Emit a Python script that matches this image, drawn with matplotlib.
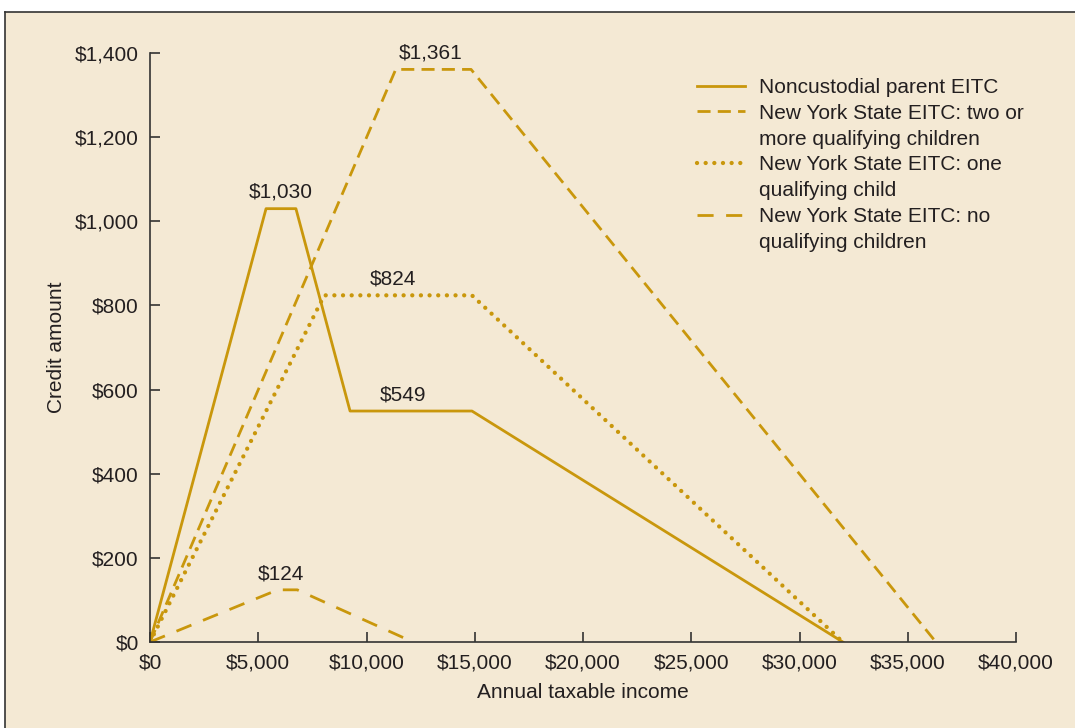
import matplotlib.pyplot as plt
from matplotlib.lines import Line2D
from matplotlib.patches import Rectangle
from matplotlib.ticker import FuncFormatter

# income breakpoints and credit amounts
ncp_income = [0, 5360, 6740, 9240, 14870, 32000]
ncp_credit = [0, 1030, 1030, 549, 549, 0]

two_income = [0, 11350, 14830, 36300]
two_credit = [0, 1361, 1361, 0]

one_income = [0, 8050, 14870, 32000]
one_credit = [0, 824, 824, 0]

none_income = [0, 5900, 6800, 12150]
none_credit = [0, 124, 124, 0]

# legend text, one list per series (continuation lines get no handle)
labels = [["Noncustodial parent EITC"],
          ["New York State EITC: two or", "more qualifying children"],
          ["New York State EITC: one", "qualifying child"],
          ["New York State EITC: no", "qualifying children"]]

# peak annotations: (income, credit, text)
notes = [(6050, 1030, "$1,030"), (12980, 1361, "$1,361"),
         (11220, 824, "$824"), (11690, 549, "$549"), (6050, 124, "$124")]

gold = "#C9970C"
bg = "#F4E9D4"
ink = "#231F20"
fs = 15

plt.rcParams['font.family'] = ['Liberation Sans', 'DejaVu Sans']

fig = plt.figure(figsize=(10.75, 7.28), dpi=100)
fig.patch.set_facecolor("white")
# beige panel with a dark top/left edge
panel = Rectangle((5 / 1075, 0), 1.0, (728 - 12) / 728, transform=fig.transFigure,
                  facecolor=bg, edgecolor="none", zorder=-5)
fig.add_artist(panel)
fig.add_artist(Line2D([5 / 1075, 1], [716 / 728, 716 / 728], color="#333333", lw=1.2, zorder=-4))
fig.add_artist(Line2D([5 / 1075, 5 / 1075], [0, 716 / 728], color="#333333", lw=1.2, zorder=-4))

ax = fig.add_axes([150 / 1075, 86 / 728, 866 / 1075, 589 / 728])
ax.set_facecolor("none")

styles = [dict(lw=2.0, linestyle="-"),
          dict(lw=2.0, linestyle=(0, (4.7, 2.6))),
          dict(lw=3.1, linestyle=(0, (0.01, 2.0)), dash_capstyle="round"),
          dict(lw=2.0, linestyle=(0, (5.8, 4.5)))]
series = [(ncp_income, ncp_credit), (two_income, two_credit),
          (one_income, one_credit), (none_income, none_credit)]

handles, texts = [], []
for (xs, ys), st, lab in zip(series, styles, labels):
    line, = ax.plot(xs, ys, color=gold, **st)
    handles.append(line)
    texts.append(lab[0])
    for extra in lab[1:]:
        handles.append(Line2D([], [], color="none"))
        texts.append(extra)

for x, y, t in notes:
    ax.text(x, y + 16, t, ha="center", va="bottom", fontsize=fs, color=ink)

ax.set_xlim(0, 40000)
ax.set_ylim(0, 1400)
ax.set_xticks(range(0, 40001, 5000))
ax.set_yticks(range(0, 1401, 200))
ax.xaxis.set_major_formatter(FuncFormatter(lambda v, p: "${:,.0f}".format(v)))
ax.yaxis.set_major_formatter(FuncFormatter(lambda v, p: "${:,.0f}".format(v)))
ax.tick_params(direction="in", length=7, width=1.2, colors="#333333",
               labelsize=fs, labelcolor=ink, pad=8)
for s in ["top", "right"]:
    ax.spines[s].set_visible(False)
for s in ["left", "bottom"]:
    ax.spines[s].set_color("#333333")
    ax.spines[s].set_linewidth(1.2)

ax.set_xlabel("Annual taxable income", fontsize=fs, color=ink, labelpad=8)
ax.set_ylabel("Credit amount", fontsize=fs, color=ink, labelpad=6)

ax.legend(handles, texts, loc="upper left", bbox_to_anchor=(0.622, 0.972), frameon=False,
          fontsize=fs, handlelength=2.3, handletextpad=0.7, labelspacing=0.33,
          labelcolor=ink, borderaxespad=0)

fig.savefig("out.png", dpi=100, facecolor=fig.get_facecolor())
